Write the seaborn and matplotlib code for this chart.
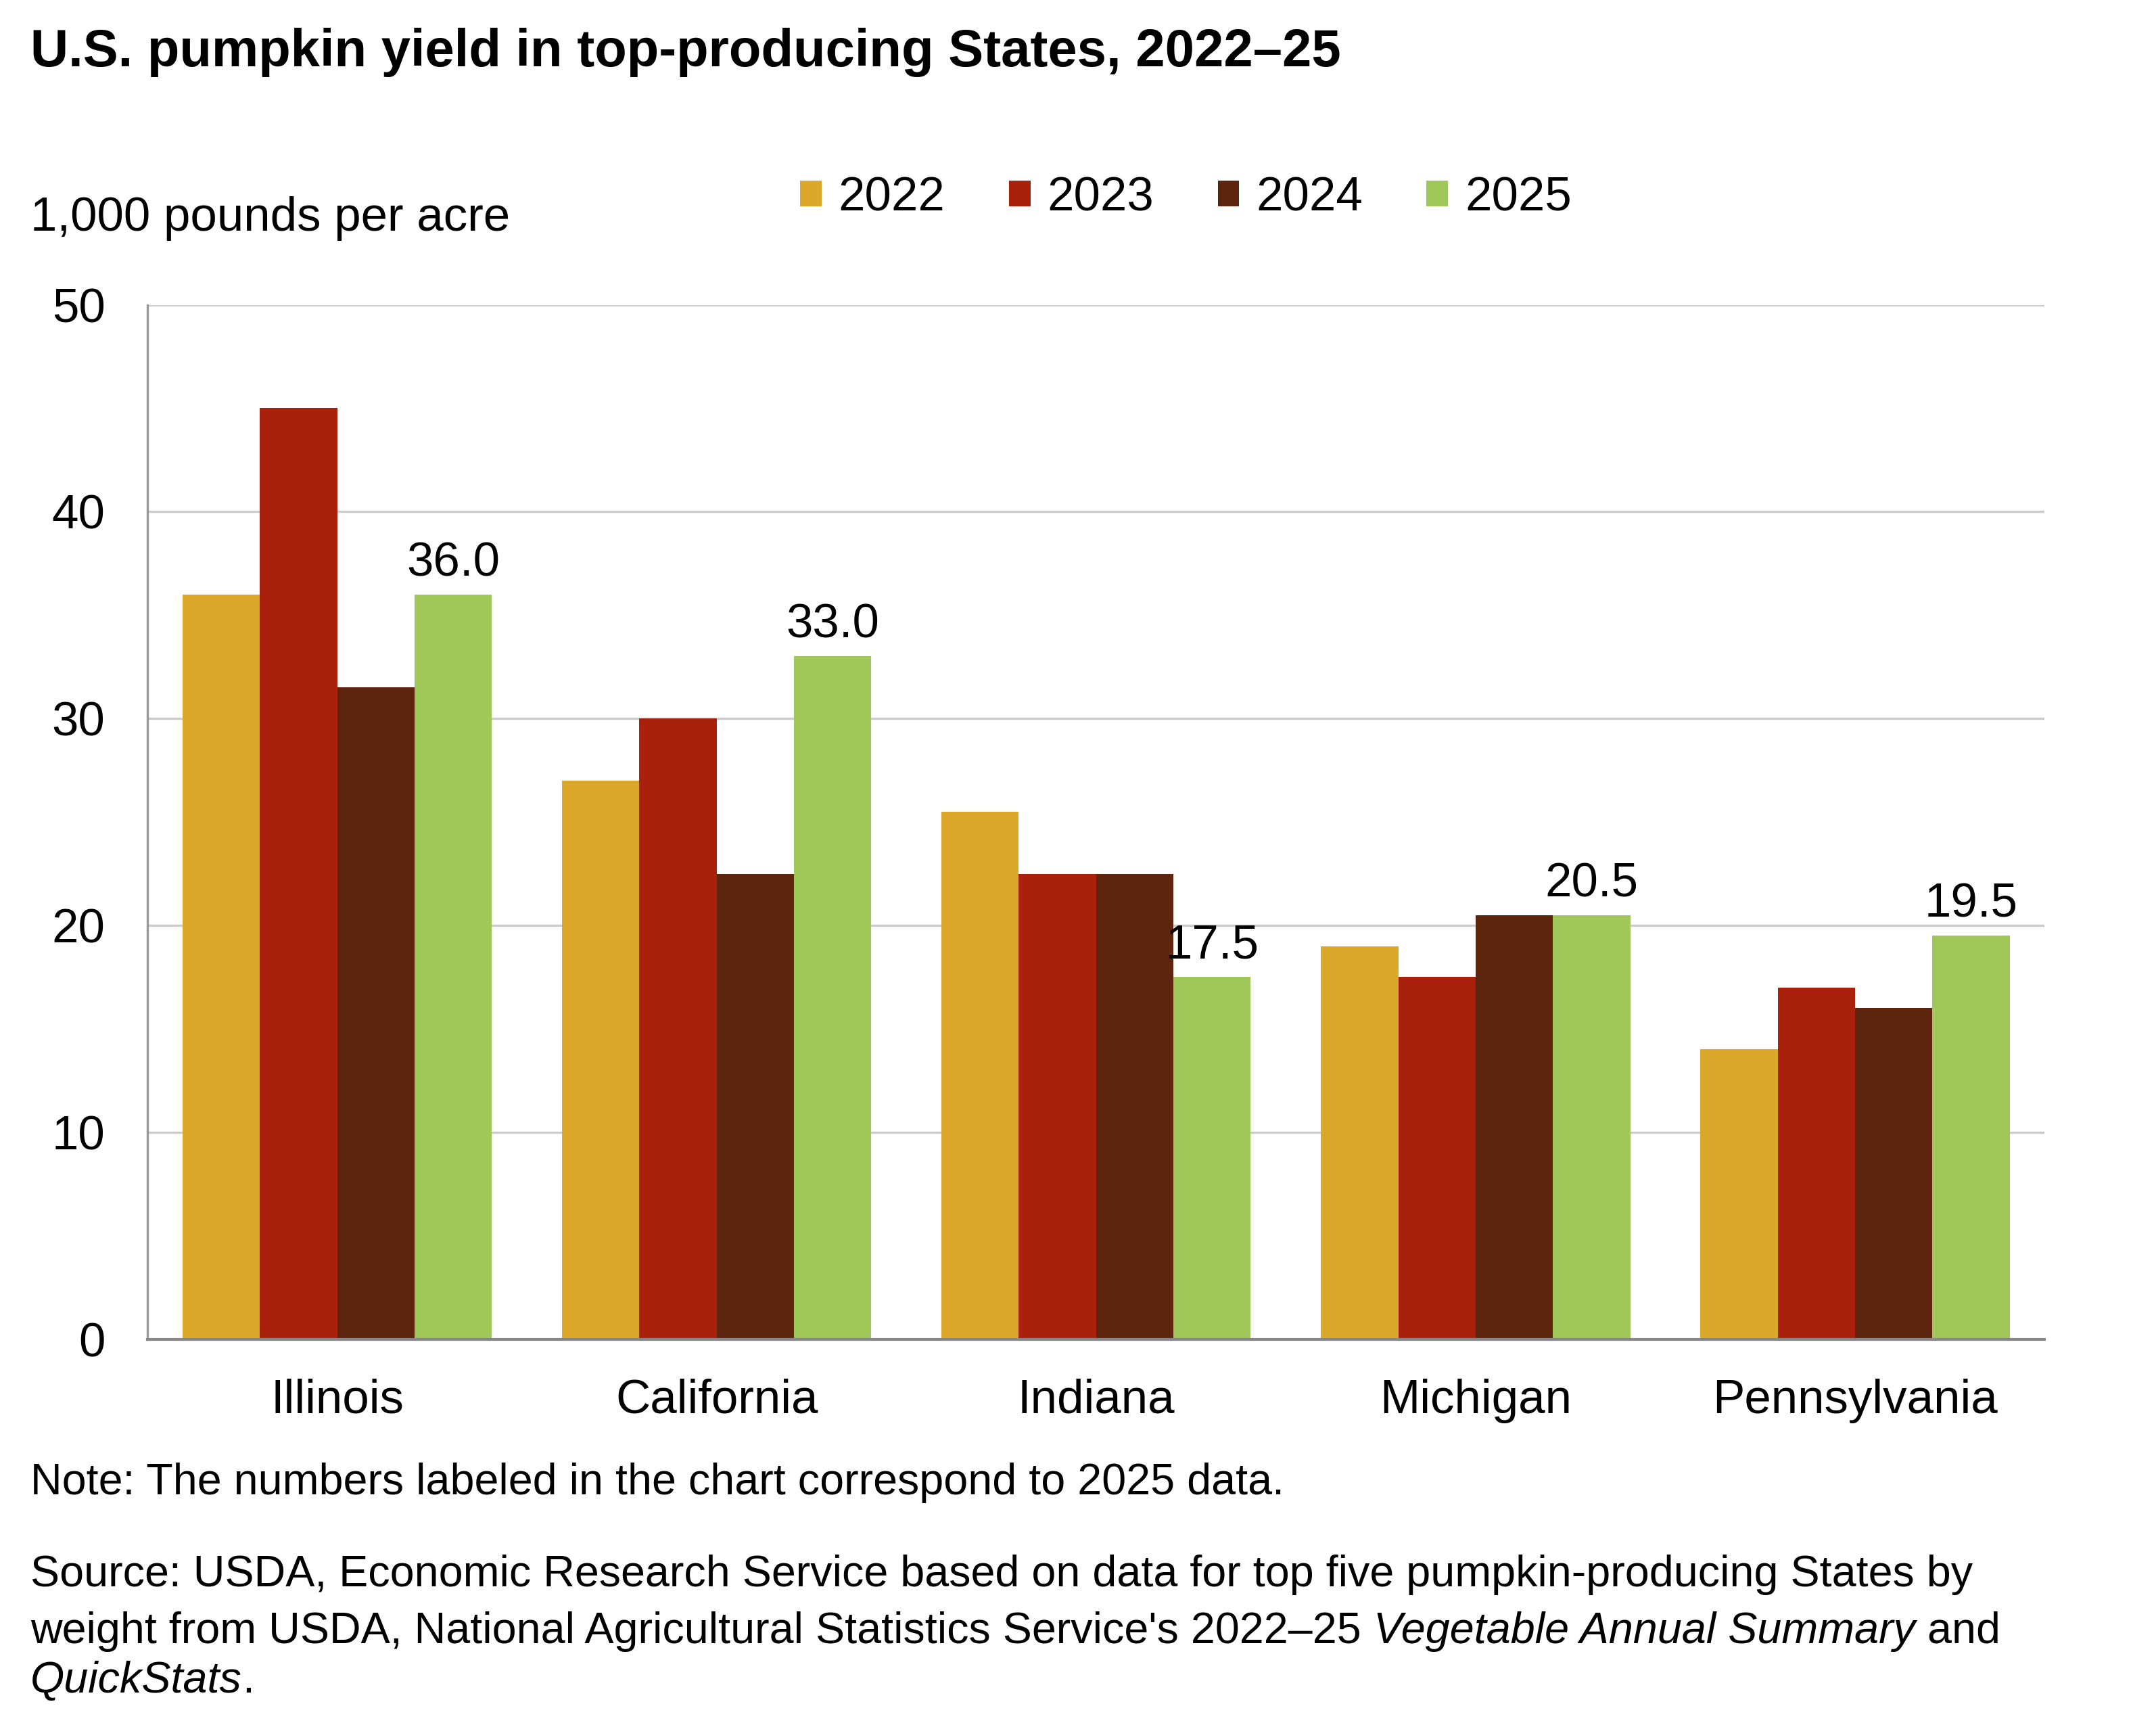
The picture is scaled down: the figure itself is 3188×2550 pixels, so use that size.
import matplotlib
matplotlib.use("Agg")
import matplotlib.pyplot as plt
from matplotlib.patches import Patch
import seaborn as sns
import pandas as pd

states = ["Illinois", "California", "Indiana", "Michigan", "Pennsylvania"]
years = ["2022", "2023", "2024", "2025"]
y2022 = [36.0, 27.0, 25.5, 19.0, 14.0]
y2023 = [45.0, 30.0, 22.5, 17.5, 17.0]
y2024 = [31.5, 22.5, 22.5, 20.5, 16.0]
y2025 = [36.0, 33.0, 17.5, 20.5, 19.5]
colors = ["#DCA82A", "#A9210C", "#5D250E", "#A0C759"]
yticks = [0, 10, 20, 30, 40, 50]

title = "U.S. pumpkin yield in top-producing States, 2022\u201325"
ylabel = "1,000 pounds per acre"
note = "Note: The numbers labeled in the chart correspond to 2025 data."

rows = []
for yr, vals in zip(years, [y2022, y2023, y2024, y2025]):
    for st, v in zip(states, vals):
        rows.append({"State": st, "Year": yr, "Yield": v})
df = pd.DataFrame(rows)

sns.set_theme(style="white")
plt.rcParams["font.family"] = ["Liberation Sans", "DejaVu Sans"]
plt.rcParams["text.color"] = "black"
plt.rcParams["axes.labelcolor"] = "black"
plt.rcParams["xtick.color"] = "black"
plt.rcParams["ytick.color"] = "black"

FS = 17
FS_NOTE = 15.5

fig = plt.figure(figsize=(3188 / 300, 2550 / 300), dpi=300)
left, right, bottom, top = 0.0684, 0.9484, 0.2237, 0.8233
ax = fig.add_axes([left, bottom, right - left, top - bottom])

sns.barplot(data=df, x="State", y="Yield", hue="Year", order=states,
            hue_order=years, palette=colors, width=0.815, gap=0,
            saturation=1, legend=False, ax=ax, linewidth=0, errorbar=None)

ax.set_xlim(-0.5, 4.5)
ax.set_ylim(0, 50)
ax.set_yticks(yticks)
ax.set_yticklabels([str(t) for t in yticks])
ax.grid(axis="y", color="#CCCCCC", linewidth=0.8)
ax.set_axisbelow(True)
ax.set_xlabel("")
ax.set_ylabel("")
for s in ["top", "right"]:
    ax.spines[s].set_visible(False)
ax.spines["left"].set_color("#999999")
ax.spines["left"].set_linewidth(0.8)
ax.spines["bottom"].set_color("#888888")
ax.spines["bottom"].set_linewidth(1.0)
ax.tick_params(axis="both", length=0, labelsize=FS, colors="black")
ax.tick_params(axis="y", pad=15)
ax.tick_params(axis="x", pad=14)

ax.bar_label(ax.containers[3], labels=[f"{v:.1f}" for v in y2025],
             padding=3, fontsize=FS, color="black")

fig.text(0.0141, 0.9615, title, fontsize=18.7, fontweight="bold",
         ha="left", va="baseline", color="black")
fig.text(0.0141, 0.8734, ylabel, fontsize=FS, ha="left", va="center",
         color="black")

handles = [Patch(facecolor=c, edgecolor="none", label=y) for c, y in zip(colors, years)]
fig.legend(handles=handles, loc="center", bbox_to_anchor=(0.550, 0.8850),
           ncol=4, frameon=False, fontsize=FS, handlelength=0.45,
           handleheight=0.45, handletextpad=0.35, columnspacing=1.33,
           labelcolor="black")

fig.text(0.0141, 0.1338, note, fontsize=FS_NOTE, ha="left", va="baseline",
         color="black")

fig.canvas.draw()
renderer = fig.canvas.get_renderer()


def draw_pieces(pieces, x0, y):
    x = x0
    for txt, style in pieces:
        t = fig.text(x, y, txt, fontsize=FS_NOTE, ha="left", va="baseline",
                     style=style, color="black")
        bb = t.get_window_extent(renderer=renderer)
        x += bb.width / fig.bbox.width


draw_pieces([("Source: USDA, Economic Research Service based on data for top five pumpkin-producing States by", "normal")],
            0.0141, 0.0805)
draw_pieces([("weight from USDA, National Agricultural Statistics Service's 2022\u201325 ", "normal"),
             ("Vegetable Annual Summary", "italic"),
             (" and", "normal")], 0.0141, 0.0475)
draw_pieces([("QuickStats", "italic"), (".", "normal")], 0.0141, 0.0190)

fig.savefig("out.png", dpi=300)
